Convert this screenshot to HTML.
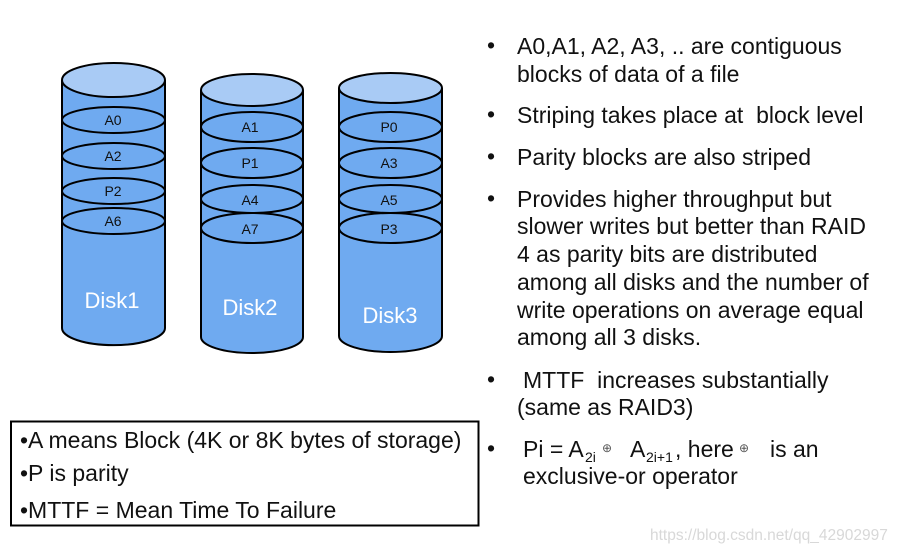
<!DOCTYPE html>
<html><head><meta charset="utf-8"><style>
html,body{margin:0;padding:0;background:#fff;}
svg{display:block;font-family:"Liberation Sans",Arial,sans-serif;}
</style></head><body>
<svg width="904" height="552" viewBox="0 0 904 552" xmlns="http://www.w3.org/2000/svg">
<g stroke="#000" stroke-width="2" fill="#6faaf0">
  <path d="M62,80 L62,328 A51,17 0 0 0 165,328 L165,80"/>
  <ellipse cx="113.5" cy="80" rx="51.5" ry="17" fill="#a9cbf5"/>
  <ellipse cx="113.5" cy="120" rx="51.5" ry="13"/>
  <ellipse cx="113.5" cy="156" rx="51.5" ry="13"/>
  <ellipse cx="113.5" cy="191" rx="51.5" ry="13"/>
  <ellipse cx="113.5" cy="221" rx="51.5" ry="13"/>
  <path d="M201,90 L201,337 A51,16 0 0 0 303,337 L303,90"/>
  <ellipse cx="252" cy="90" rx="51" ry="16" fill="#a9cbf5"/>
  <ellipse cx="252" cy="127" rx="51" ry="15"/>
  <ellipse cx="252" cy="163" rx="51" ry="15"/>
  <ellipse cx="252" cy="199" rx="51" ry="14"/>
  <ellipse cx="252" cy="228" rx="51" ry="15"/>
  <path d="M339,88 L339,336 A51.5,16 0 0 0 442,336 L442,88"/>
  <ellipse cx="390.5" cy="88" rx="51.5" ry="15" fill="#a9cbf5"/>
  <ellipse cx="390.5" cy="127" rx="51.5" ry="15"/>
  <ellipse cx="390.5" cy="163" rx="51.5" ry="15"/>
  <ellipse cx="390.5" cy="199" rx="51.5" ry="14"/>
  <ellipse cx="390.5" cy="228" rx="51.5" ry="15"/>
</g>
<g font-size="14" fill="#111" text-anchor="middle">
  <text x="113" y="125">A0</text><text x="113" y="161">A2</text><text x="113" y="196">P2</text><text x="113" y="226">A6</text>
  <text x="250" y="132">A1</text><text x="250" y="168">P1</text><text x="250" y="205">A4</text><text x="250" y="234">A7</text>
  <text x="389" y="132">P0</text><text x="389" y="168">A3</text><text x="389" y="205">A5</text><text x="389" y="234">P3</text>
</g>
<g font-size="22" fill="#fff" text-anchor="middle">
  <text x="112" y="308">Disk1</text><text x="250" y="315">Disk2</text><text x="390" y="323">Disk3</text>
</g>
<g font-size="23" fill="#111">
  <text x="487" y="53">•</text><text x="517" y="54">A0,A1, A2, A3, .. are contiguous</text>
  <text x="517" y="82">blocks of data of a file</text>
  <text x="487" y="122">•</text><text x="517" y="123">Striping takes place at&#160; block level</text>
  <text x="487" y="164">•</text><text x="517" y="165">Parity blocks are also striped</text>
  <text x="487" y="206">•</text><text x="517" y="207">Provides higher throughput but</text>
  <text x="517" y="234">slower writes but better than RAID</text>
  <text x="517" y="262">4 as parity bits are distributed</text>
  <text x="517" y="290">among all disks and the number of</text>
  <text x="517" y="318">write operations on average equal</text>
  <text x="517" y="345">among all 3 disks.</text>
  <text x="487" y="387">•</text><text x="523" y="388">MTTF&#160; increases substantially</text>
  <text x="517" y="415">(same as RAID3)</text>
  <text x="487" y="456">•</text>
  <text x="523" y="457">Pi = A</text>
  <text x="585" y="462" font-size="14">2i</text>
  <text x="602" y="452" font-size="12" fill="#555">⊕</text>
  <text x="630" y="457">A</text>
  <text x="646" y="462" font-size="14">2i+1</text>
  <text x="675" y="457">, here</text>
  <text x="739" y="452" font-size="12" fill="#555">⊕</text>
  <text x="770" y="457">is an</text>
  <text x="523" y="484">exclusive-or operator</text>
</g>
<rect x="11" y="421.5" width="467.5" height="104" fill="none" stroke="#000" stroke-width="2"/>
<g font-size="23" fill="#111">
  <text x="20" y="448">•A means Block (4K or 8K bytes of storage)</text>
  <text x="20" y="481">•P is parity</text>
  <text x="20" y="518">•MTTF = Mean Time To Failure</text>
</g>
<text x="650" y="540" font-size="15.5" fill="#d8d8d8">https://blog.csdn.net/qq_42902997</text>
</svg>
</body></html>
